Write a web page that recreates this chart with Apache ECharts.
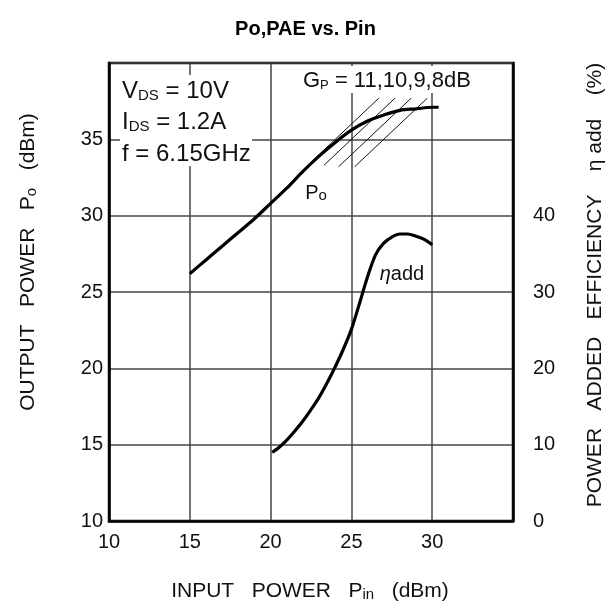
<!DOCTYPE html>
<html>
<head>
<meta charset="utf-8">
<script src="https://cdn.jsdelivr.net/npm/echarts@6/dist/echarts.min.js"></script>
<style>
html,body{margin:0;padding:0;background:#fff;}
#c{width:611px;height:607px;}
</style>
</head>
<body>
<div id="c"></div>
<script>
// ---- data ----
const xTicks = [10, 15, 20, 25, 30];
const yLeftTicks = [10, 15, 20, 25, 30, 35];
const yRightTicks = [0, 10, 20, 30, 40];

// Output power Po (dBm) vs input power Pin (dBm)
const poPin = [15, 16, 17, 18, 19, 20, 21, 22, 23, 24, 25, 26, 27, 28, 29, 30, 30.4];
const poOut = [26.2, 27.1, 28.0, 28.9, 29.8, 30.8, 31.8, 32.9, 33.9, 34.8, 35.6, 36.2, 36.6, 36.9, 37.0, 37.1, 37.1];

// Power added efficiency (%) vs input power Pin (dBm)
const etaPin = [20.1, 20.5, 21.0, 21.5, 22.0, 22.5, 23.0, 23.5, 24.0, 24.5, 25.0, 25.5, 26.0, 26.5, 27.0, 27.5, 28.0, 28.5, 29.0, 29.5, 30.0];
const etaVal = [9.0, 9.6, 10.6, 11.8, 13.1, 14.6, 16.2, 18.1, 20.2, 22.5, 25.1, 28.5, 32.0, 34.9, 36.4, 37.2, 37.6, 37.6, 37.3, 36.9, 36.2];

// Constant-gain hatch lines Gp = 11, 10, 9, 8 dB (endpoints)
const gpGain = [11, 10, 9, 8];
const gpPinStart = [22.4, 23.3, 24.2, 25.2];
const gpPoStart = [33.4, 33.3, 33.2, 33.2];
const gpPinEnd = [26.7, 27.7, 28.7, 29.7];
const gpPoEnd = [37.7, 37.7, 37.7, 37.7];

// ---- chart ----
const chart = echarts.init(document.getElementById('c'), null, {renderer: 'canvas'});
const FONT = '"Liberation Sans", Arial, sans-serif';

const gpSeries = gpGain.map((g, i) => ({
  type: 'line', name: 'Gp' + g, xAxisIndex: 0, yAxisIndex: 0,
  data: [[gpPinStart[i], gpPoStart[i]], [gpPinEnd[i], gpPoEnd[i]]],
  showSymbol: false, silent: true, z: 3,
  lineStyle: {color: '#111', width: 1}
}));

function sub(size, pad) {
  return {fontSize: size, fontFamily: FONT, fill: '#111', verticalAlign: 'bottom', padding: [pad, 0, 0, 0]};
}
function main(size) {
  return {fontSize: size, fontFamily: FONT, fill: '#111'};
}

const option = {
  animation: false,
  backgroundColor: '#fff',
  title: {
    text: 'Po,PAE vs. Pin', left: 'center', top: 14,
    textStyle: {fontFamily: FONT, fontWeight: 'bold', fontSize: 20, color: '#000'}
  },
  grid: {left: 109, right: 98, top: 63, bottom: 86, show: true, borderColor: '#000', borderWidth: 2.5, backgroundColor: 'transparent'},
  xAxis: {
    type: 'value', min: 10, max: 35, interval: 5,
    axisLine: {show: true, lineStyle: {color: '#000', width: 2.5}},
    axisTick: {show: false},
    splitLine: {show: true, lineStyle: {color: '#444', width: 1.5}},
    axisLabel: {
      margin: 11, fontSize: 20, fontFamily: FONT, color: '#111',
      formatter: v => xTicks.indexOf(v) >= 0 ? String(v) : ''
    }
  },
  yAxis: [{
    type: 'value', min: 10, max: 40, interval: 5, position: 'left',
    axisLine: {show: true, lineStyle: {color: '#000', width: 2.5}},
    axisTick: {show: false},
    splitLine: {show: true, lineStyle: {color: '#444', width: 1.5}},
    axisLabel: {
      margin: 6, fontSize: 20, fontFamily: FONT, color: '#111',
      formatter: v => yLeftTicks.indexOf(v) >= 0 ? String(v) : ''
    }
  }, {
    type: 'value', min: 0, max: 60, interval: 10, position: 'right',
    axisLine: {show: true, lineStyle: {color: '#000', width: 2.5}},
    axisTick: {show: false},
    splitLine: {show: false},
    axisLabel: {
      margin: 20, fontSize: 20, fontFamily: FONT, color: '#111',
      formatter: v => yRightTicks.indexOf(v) >= 0 ? String(v) : ''
    }
  }],
  series: [{
    type: 'line', name: 'Po', xAxisIndex: 0, yAxisIndex: 0,
    data: poPin.map((x, i) => [x, poOut[i]]),
    smooth: 0.3, showSymbol: false, z: 4,
    lineStyle: {color: '#000', width: 3.2}
  }, {
    type: 'line', name: 'eta', xAxisIndex: 0, yAxisIndex: 1,
    data: etaPin.map((x, i) => [x, etaVal[i]]),
    smooth: 0.3, showSymbol: false, z: 4,
    lineStyle: {color: '#000', width: 3.2}
  }].concat(gpSeries),
  graphic: [
    // white boxes behind the in-plot annotations
    {type: 'rect', z: 50, shape: {x: 120, y: 75, width: 132, height: 91}, style: {fill: '#fff'}},
    {type: 'rect', z: 50, shape: {x: 300, y: 66, width: 176, height: 27}, style: {fill: '#fff'}},
    {type: 'text', z: 60, x: 122, y: 91, style: {
      text: '{a|V}{s|DS}{a| = 10V}', textVerticalAlign: 'middle',
      rich: {a: main(24), s: sub(15, 8)}
    }},
    {type: 'text', z: 60, x: 122, y: 122, style: {
      text: '{a|I}{s|DS}{a| = 1.2A}', textVerticalAlign: 'middle',
      rich: {a: main(24), s: sub(15, 8)}
    }},
    {type: 'text', z: 60, x: 122, y: 154, style: {
      text: 'f = 6.15GHz', textVerticalAlign: 'middle', fontSize: 24, fontFamily: FONT, fill: '#111'
    }},
    {type: 'text', z: 60, x: 303, y: 81, style: {
      text: '{a|G}{s|P}{a| = 11,10,9,8dB}', textVerticalAlign: 'middle',
      rich: {a: main(22), s: sub(13, 6)}
    }},
    {type: 'text', z: 60, x: 316, y: 193, style: {
      text: '{a|P}{s|o}', textAlign: 'center', textVerticalAlign: 'middle',
      rich: {a: main(20), s: sub(15, 5)}
    }},
    {type: 'text', z: 60, x: 402, y: 274, style: {
      text: '{e|η}{a|add}', textAlign: 'center', textVerticalAlign: 'middle',
      rich: {a: main(20), e: {fontSize: 20, fontFamily: FONT, fontStyle: 'italic', fill: '#111'}}
    }},
    // axis titles
    {type: 'text', z: 60, x: 310, y: 591, style: {
      text: '{a|INPUT   POWER   P}{s|in}{a|   (dBm)}', textAlign: 'center', textVerticalAlign: 'middle',
      rich: {a: main(21), s: sub(15, 7)}
    }},
    {type: 'text', z: 60, x: 28, y: 262, rotation: Math.PI / 2, style: {
      text: '{a|OUTPUT   POWER   P}{s|o}{a|   (dBm)}', textAlign: 'center', textVerticalAlign: 'middle',
      rich: {a: main(21), s: sub(15, 7)}
    }},
    {type: 'text', z: 60, x: 595, y: 285, rotation: Math.PI / 2, style: {
      text: 'POWER   ADDED   EFFICIENCY    η add    (%)', textAlign: 'center', textVerticalAlign: 'middle',
      fontSize: 21, fontFamily: FONT, fill: '#111'
    }}
  ]
};
chart.setOption(option);
</script>
</body>
</html>
